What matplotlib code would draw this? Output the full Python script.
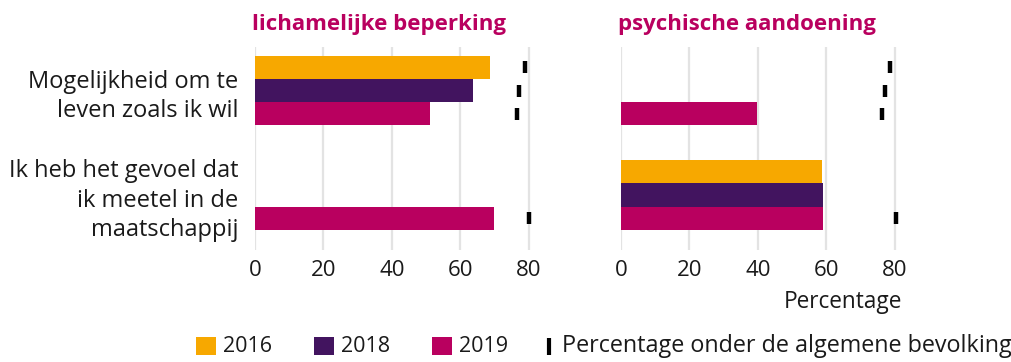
import numpy as np
import matplotlib
matplotlib.use("Agg")
import matplotlib.pyplot as plt
from matplotlib.patches import Rectangle
from matplotlib.lines import Line2D

plt.rcParams["font.family"] = ["Open Sans", "DejaVu Sans"]

# data
categories = ["Mogelijkheid om te\nleven zoals ik wil",
              "Ik heb het gevoel dat\nik meetel in de\nmaatschappij"]
years = ["2016", "2018", "2019"]
panels = ["lichamelijke beperking", "psychische aandoening"]
population_label = "Percentage onder de algemene bevolking"

# rows = category, cols = year (nan = no measurement)
lich_values = [[68.5, 63.7, 51.0],
               [np.nan, np.nan, 69.7]]
lich_population = [[78.8, 77.2, 76.4],
                   [np.nan, np.nan, 80.0]]
psych_values = [[np.nan, np.nan, 39.8],
                [58.6, 59.1, 59.1]]
psych_population = [[78.6, 77.2, 76.2],
                    [np.nan, np.nan, 80.2]]

colors = ["#f7a800", "#42145f", "#b9005f"]
title_color = "#b9005f"
text_color = "#1a1a1a"

W, H = 1012, 362
fig = plt.figure(figsize=(W / 100, H / 100), dpi=100)

px = 3.425  # pixels per percent
xmax = 82
ax_w = xmax * px / W
ax_b = 1 - 250 / H
ax_h = (250 - 47) / H
ax1 = fig.add_axes([255 / W, ax_b, ax_w, ax_h])
ax2 = fig.add_axes([621 / W, ax_b, ax_w, ax_h])

bar_h = 0.221
offsets = np.array([-1, 0, 1]) * bar_h
ypos = np.arange(len(categories))

for ax, vals, pop, title in [(ax1, lich_values, lich_population, panels[0]),
                             (ax2, psych_values, psych_population, panels[1])]:
    vals = np.array(vals, dtype=float)
    pop = np.array(pop, dtype=float)
    for j, year in enumerate(years):
        v = vals[:, j]
        ok = ~np.isnan(v)
        ax.barh(ypos[ok] + offsets[j], v[ok], height=bar_h,
                color=colors[j], zorder=2, linewidth=0)
        p = pop[:, j]
        okp = ~np.isnan(p)
        ax.plot(p[okp], ypos[okp] + offsets[j], linestyle="none",
                marker="|", ms=9, mew=3.2, color="black", zorder=3)
    ax.set_xlim(0, xmax)
    ax.set_ylim(1 + (250 - 195) / 104.5, -(90.5 - 47) / 104.5)
    ax.set_xticks([0, 20, 40, 60, 80])
    ax.grid(axis="x", color="#e3e3e3", linewidth=1.6, zorder=0)
    ax.set_axisbelow(True)
    for s in ax.spines.values():
        s.set_visible(False)
    ax.tick_params(axis="x", length=0, pad=7, labelsize=16, labelcolor=text_color)
    ax.tick_params(axis="y", length=0)
    ax.set_title(title, loc="left", color=title_color, fontsize=16,
                 fontweight="bold", pad=12, x=-0.01)

ax1.set_yticks(ypos)
ax1.set_yticklabels(categories, fontsize=17, ha="right", color=text_color,
                    linespacing=1.28)
ax1.tick_params(axis="y", pad=12)
ax2.set_yticks([])
ax2.set_xlabel("Percentage", loc="right", fontsize=16.3, color=text_color,
               labelpad=7)

# legend drawn by hand so it can run off the right edge
leg_y = 346
sq_x = [196, 314, 432]
for x0, c, lab in zip(sq_x, colors, years):
    fig.add_artist(Rectangle((x0 / W, 1 - 355 / H), 20 / W, 18 / H,
                             transform=fig.transFigure, facecolor=c,
                             edgecolor="none"))
    fig.text((x0 + 27) / W, 1 - leg_y / H, lab, fontsize=15.5,
             color=text_color, va="center", ha="left")
fig.add_artist(Line2D([549 / W, 549 / W], [1 - 338 / H, 1 - 355 / H],
                      transform=fig.transFigure, color="black", linewidth=3,
                      solid_capstyle="butt"))
fig.text(562 / W, 1 - leg_y / H, population_label, fontsize=16.8,
         color=text_color, va="center", ha="left")

fig.savefig("out.png", dpi=100)
